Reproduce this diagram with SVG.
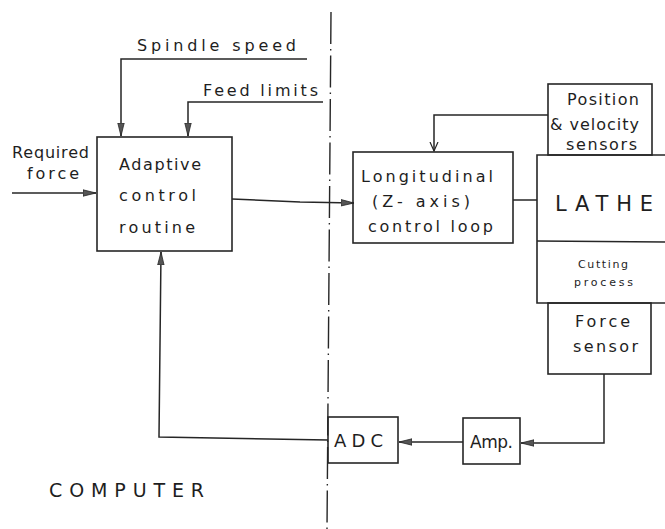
<svg xmlns="http://www.w3.org/2000/svg" width="665" height="529" viewBox="0 0 665 529">
<defs>
<style>
.box{fill:none;stroke:#262626;stroke-width:1.6}
.ln{fill:none;stroke:#262626;stroke-width:1.5}
.t{font-family:"DejaVu Sans","Liberation Sans",sans-serif;fill:#1e1e1e}
.m{font-size:16px}
.s{font-size:11px}
</style>
<marker id="ah" markerUnits="userSpaceOnUse" markerWidth="14" markerHeight="8" refX="13" refY="4" orient="auto">
<path d="M0,0.8 L13,4 L0,7.2 Z" fill="#555" stroke="#262626" stroke-width="0.8"/>
</marker>
<marker id="av" markerUnits="userSpaceOnUse" markerWidth="10" markerHeight="10" refX="9" refY="5" orient="auto">
<path d="M0,1 L9,5 L0,9" fill="none" stroke="#262626" stroke-width="1.2"/>
</marker>
</defs>
<rect width="665" height="529" fill="#fff"/>

<g id="divider">
<line x1="331" y1="12" x2="327" y2="529" stroke="#262626" stroke-width="1.4" stroke-dasharray="32,5,1.5,5"/>
</g>

<g id="connectors">
<polyline class="ln" points="307,59 121,59 121,136" marker-end="url(#ah)"/>
<polyline class="ln" points="323,102 188,102 188,136" marker-end="url(#ah)"/>
<line class="ln" x1="12" y1="193" x2="96" y2="193" marker-end="url(#ah)"/>
<polyline class="ln" points="232,199 300,202 354,203" marker-end="url(#ah)"/>
<polyline class="ln" points="548,115 434,115 434,151" marker-end="url(#av)"/>
<line class="ln" x1="513" y1="200" x2="537" y2="200"/>
<polyline class="ln" points="604,374 604,443 521,443" marker-end="url(#ah)"/>
<line class="ln" x1="463" y1="442" x2="399" y2="442" marker-end="url(#ah)"/>
<polyline class="ln" points="328,440 159,437 161,252" marker-end="url(#ah)"/>
</g>

<g id="labels">
<text class="t m" x="137" y="51" textLength="159" lengthAdjust="spacing">Spindle speed</text>
<text class="t m" x="203" y="96" textLength="115" lengthAdjust="spacing">Feed limits</text>
<text class="t m" x="12" y="158" textLength="77" lengthAdjust="spacing">Required</text>
<text class="t m" x="27" y="179" textLength="52" lengthAdjust="spacing">force</text>
<text class="t" x="49" y="497" font-size="19" textLength="155" lengthAdjust="spacing">COMPUTER</text>
</g>

<g id="adaptive">
<rect class="box" x="97" y="137" width="135" height="114"/>
<text class="t m" x="119" y="170" textLength="82" lengthAdjust="spacing">Adaptive</text>
<text class="t m" x="119" y="201" textLength="77" lengthAdjust="spacing">control</text>
<text class="t m" x="119" y="233" textLength="76" lengthAdjust="spacing">routine</text>
</g>

<g id="longitudinal">
<rect class="box" x="353" y="152" width="160" height="91"/>
<text class="t m" x="361" y="182" textLength="132" lengthAdjust="spacing">Longitudinal</text>
<text class="t m" x="372" y="207" textLength="98" lengthAdjust="spacing">(Z- axis)</text>
<text class="t m" x="368" y="232" textLength="125" lengthAdjust="spacing">control loop</text>
</g>

<g id="sensors">
<rect class="box" x="548" y="84" width="104" height="71"/>
<text class="t m" x="567" y="105" textLength="72" lengthAdjust="spacing">Position</text>
<text class="t m" x="550" y="130" textLength="89" lengthAdjust="spacing">&amp; velocity</text>
<text class="t m" x="566" y="150" textLength="71" lengthAdjust="spacing">sensors</text>
</g>

<g id="lathe">
<polyline class="box" points="668,155 537,155 537,303 668,303"/>
<text class="t" x="555" y="211" font-size="21" textLength="98" lengthAdjust="spacing">LATHE</text>
</g>

<g id="cutting">
<line class="box" x1="537" y1="241" x2="668" y2="242"/>
<text class="t s" x="578" y="268" textLength="50" lengthAdjust="spacing">Cutting</text>
<text class="t s" x="574" y="286" textLength="59" lengthAdjust="spacing">process</text>
</g>

<g id="force">
<rect class="box" x="548" y="303" width="103" height="71"/>
<text class="t m" x="575" y="327" textLength="55" lengthAdjust="spacing">Force</text>
<text class="t m" x="573" y="352" textLength="65" lengthAdjust="spacing">sensor</text>
</g>

<g id="amp">
<rect class="box" x="463" y="418" width="57" height="46"/>
<text class="t" x="470" y="448" font-size="17" textLength="43" lengthAdjust="spacing">Amp.</text>
</g>

<g id="adc">
<rect class="box" x="328" y="417" width="70" height="46"/>
<text class="t" x="334" y="447" font-size="18" textLength="49" lengthAdjust="spacing">ADC</text>
</g>
</svg>
